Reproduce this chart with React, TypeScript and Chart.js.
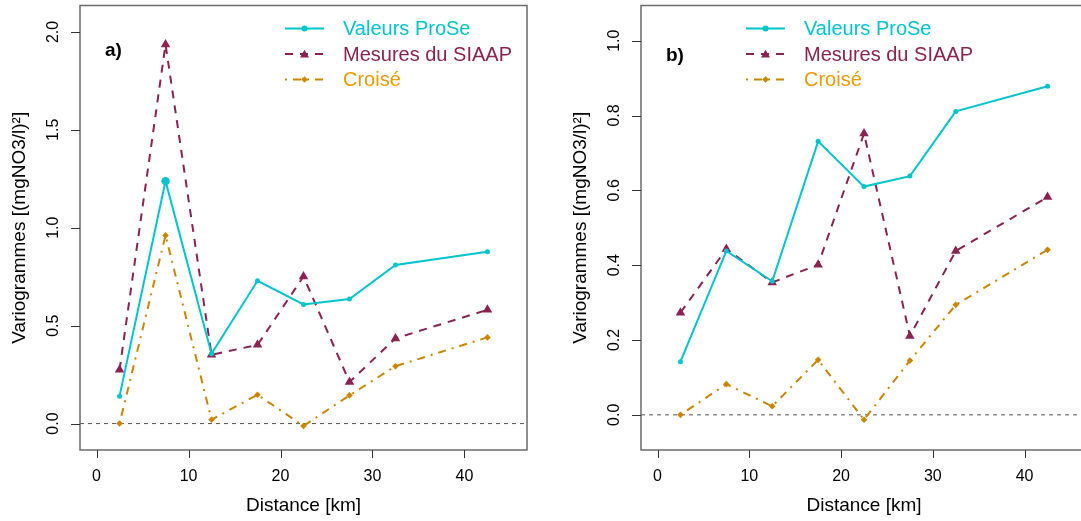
import React, { useEffect, useRef } from "react";
import { Chart, registerables } from "chart.js";

Chart.register(...registerables);

// Lag-class centres (km)
const distances = [2.5, 7.5, 12.5, 17.5, 22.5, 27.5, 32.5, 42.5];

// a) all stations
const proseA = [0.14, 1.238, 0.356, 0.729, 0.608, 0.636, 0.81, 0.878];
const siaapA = [0.275, 1.936, 0.351, 0.402, 0.751, 0.212, 0.435, 0.581];
const croiseA = [0.0, 0.961, 0.02, 0.147, -0.012, 0.144, 0.293, 0.44];

// b) reduced set
const proseB = [0.142, 0.438, 0.357, 0.731, 0.61, 0.638, 0.811, 0.878];
const siaapB = [0.273, 0.443, 0.354, 0.401, 0.752, 0.211, 0.438, 0.582];
const croiseB = [0.0, 0.082, 0.023, 0.147, -0.013, 0.145, 0.294, 0.441];

const xTicks = [0, 10, 20, 30, 40];
const xTickLabels = ["0", "10", "20", "30", "40"];
const yTicksA = [0, 0.5, 1, 1.5, 2];
const yTickLabelsA = ["0.0", "0.5", "1.0", "1.5", "2.0"];
const yTicksB = [0, 0.2, 0.4, 0.6, 0.8, 1.0];
const yTickLabelsB = ["0.0", "0.2", "0.4", "0.6", "0.8", "1.0"];

const seriesNames = ["Valeurs ProSe", "Mesures du SIAAP", "Croisé"];
const xTitle = "Distance [km]";
const yTitle = "Variogrammes [(mgNO3/l)²]";

const CYAN = "#00C5CD";
const MAROON = "#8B2252";
const GOLD = "#CD8500";
const GOLD_TEXT = "#EE9A00";
const FONT = "'Liberation Sans', Arial, Helvetica, sans-serif";

const DASH_SIAAP = [8, 7];
const DASH_CROISE = [2, 6, 8, 6];

type Panel = {
  prose: number[];
  siaap: number[];
  croise: number[];
  yMin: number;
  yMax: number;
  yTicks: number[];
  yTickLabels: string[];
  tag: string;
  tagX: number;
  tagY: number;
  legendX: number;
  canvasWidth: number;
  padLeft: number;
  padRight: number;
  proseRadii: number[];
};

function drawMarker(ctx: CanvasRenderingContext2D, kind: string, x: number, y: number, r: number, color: string) {
  ctx.save();
  ctx.setLineDash([]);
  ctx.fillStyle = color;
  ctx.beginPath();
  if (kind === "circle") {
    ctx.arc(x, y, r, 0, Math.PI * 2);
  } else if (kind === "triangle") {
    ctx.moveTo(x, y - r);
    ctx.lineTo(x + r * 0.866, y + r * 0.5);
    ctx.lineTo(x - r * 0.866, y + r * 0.5);
    ctx.closePath();
  } else {
    ctx.moveTo(x, y - r);
    ctx.lineTo(x + r, y);
    ctx.lineTo(x, y + r);
    ctx.lineTo(x - r, y);
    ctx.closePath();
  }
  ctx.fill();
  ctx.restore();
}

function makePlugin(p: Panel) {
  return {
    id: "baseAxes",
    beforeDatasetsDraw(chart: any) {
      const { ctx, chartArea } = chart;
      const ys = chart.scales.y;
      const y0 = ys.getPixelForValue(0);
      ctx.save();
      ctx.strokeStyle = "#555";
      ctx.lineWidth = 1;
      ctx.setLineDash([4, 4]);
      ctx.beginPath();
      ctx.moveTo(chartArea.left, y0);
      ctx.lineTo(chartArea.right, y0);
      ctx.stroke();
      ctx.restore();
    },
    afterDraw(chart: any) {
      const { ctx, chartArea } = chart;
      const xs = chart.scales.x;
      const ys = chart.scales.y;
      const { left, right, top, bottom } = chartArea;
      ctx.save();

      // frame
      ctx.strokeStyle = "#6b6b6b";
      ctx.lineWidth = 1.5;
      ctx.strokeRect(left, top, right - left, bottom - top);

      // ticks
      ctx.strokeStyle = "#333";
      ctx.lineWidth = 1;
      ctx.beginPath();
      xTicks.forEach((v) => {
        const px = Math.round(xs.getPixelForValue(v)) + 0.5;
        ctx.moveTo(px, bottom);
        ctx.lineTo(px, bottom + 8);
      });
      p.yTicks.forEach((v) => {
        const py = Math.round(ys.getPixelForValue(v)) + 0.5;
        ctx.moveTo(left, py);
        ctx.lineTo(left - 9, py);
      });
      ctx.stroke();

      // tick labels
      ctx.fillStyle = "#000";
      ctx.font = `16px ${FONT}`;
      ctx.textAlign = "center";
      ctx.textBaseline = "alphabetic";
      xTicks.forEach((v, i) => {
        ctx.fillText(xTickLabels[i], xs.getPixelForValue(v), 481);
      });
      p.yTicks.forEach((v, i) => {
        ctx.save();
        ctx.translate(left - 26, ys.getPixelForValue(v));
        ctx.rotate(-Math.PI / 2);
        ctx.textBaseline = "middle";
        ctx.fillText(p.yTickLabels[i], 0, 0);
        ctx.restore();
      });

      // axis titles
      ctx.font = `19px ${FONT}`;
      ctx.fillText(xTitle, (left + right) / 2, 511);
      ctx.save();
      ctx.translate(left - 60, (top + bottom) / 2);
      ctx.rotate(-Math.PI / 2);
      ctx.textBaseline = "middle";
      ctx.fillText(yTitle, 0, 0);
      ctx.restore();

      // panel tag
      ctx.font = `bold 19px ${FONT}`;
      ctx.textAlign = "left";
      ctx.fillText(p.tag, p.tagX, p.tagY);

      // legend
      const rows = [28.5, 54, 79.5];
      const colors = [CYAN, MAROON, GOLD];
      const textColors = [CYAN, MAROON, GOLD_TEXT];
      const dashes = [[], DASH_SIAAP, DASH_CROISE];
      const kinds = ["circle", "triangle", "diamond"];
      const radii = [3, 5.2, 3.3];
      const x1 = p.legendX;
      const x2 = p.legendX + 39;
      const xm = (x1 + x2) / 2;
      ctx.font = `20px ${FONT}`;
      ctx.textBaseline = "middle";
      rows.forEach((ry, i) => {
        ctx.save();
        ctx.strokeStyle = colors[i];
        ctx.lineWidth = 2;
        ctx.setLineDash(dashes[i]);
        ctx.beginPath();
        ctx.moveTo(x1, ry);
        ctx.lineTo(x2, ry);
        ctx.stroke();
        ctx.restore();
        drawMarker(ctx, kinds[i], xm, ry + (i === 1 ? 1 : 0), radii[i], colors[i]);
        ctx.fillStyle = textColors[i];
        ctx.fillText(seriesNames[i], x1 + 58, ry + 1);
      });
      ctx.restore();
    },
  };
}

function toPoints(vals: number[]) {
  return distances.map((x, i) => ({ x, y: vals[i] }));
}

function buildChart(canvas: HTMLCanvasElement, p: Panel) {
  return new Chart(canvas, {
    type: "line",
    data: {
      datasets: [
        {
          label: seriesNames[0],
          data: toPoints(p.prose),
          borderColor: CYAN,
          backgroundColor: CYAN,
          borderWidth: 2,
          pointStyle: "circle",
          pointRadius: p.proseRadii,
          pointBackgroundColor: CYAN,
          pointBorderColor: CYAN,
          pointBorderWidth: 0,
          tension: 0,
        },
        {
          label: seriesNames[1],
          data: toPoints(p.siaap),
          borderColor: MAROON,
          backgroundColor: MAROON,
          borderWidth: 2,
          borderDash: DASH_SIAAP,
          pointStyle: "triangle",
          pointRadius: 5.5,
          pointBackgroundColor: MAROON,
          pointBorderColor: MAROON,
          pointBorderWidth: 0,
          tension: 0,
        },
        {
          label: seriesNames[2],
          data: toPoints(p.croise),
          borderColor: GOLD,
          backgroundColor: GOLD,
          borderWidth: 2,
          borderDash: DASH_CROISE,
          pointStyle: "rectRot",
          pointRadius: 3.3,
          pointBackgroundColor: GOLD,
          pointBorderColor: GOLD,
          pointBorderWidth: 0,
          tension: 0,
        },
      ],
    },
    options: {
      animation: false,
      responsive: false,
      devicePixelRatio: 1,
      layout: { padding: { left: p.padLeft, right: p.padRight, top: 4, bottom: 71 } },
      scales: {
        x: { type: "linear", min: -1.8, max: 46.8, display: false },
        y: { type: "linear", min: p.yMin, max: p.yMax, display: false },
      },
      plugins: { legend: { display: false }, tooltip: { enabled: false } },
      events: [],
    },
    plugins: [makePlugin(p)],
  } as any);
}

const panelA: Panel = {
  prose: proseA,
  siaap: siaapA,
  croise: croiseA,
  yMin: -0.135,
  yMax: 2.135,
  yTicks: yTicksA,
  yTickLabels: yTickLabelsA,
  tag: "a)",
  tagX: 105,
  tagY: 56,
  legendX: 285,
  canvasWidth: 540,
  padLeft: 80,
  padRight: 13,
  proseRadii: [2.5, 4.2, 2.5, 2.5, 2.5, 2.5, 2.5, 2.5],
};

const panelB: Panel = {
  prose: proseB,
  siaap: siaapB,
  croise: croiseB,
  yMin: -0.094,
  yMax: 1.094,
  yTicks: yTicksB,
  yTickLabels: yTickLabelsB,
  tag: "b)",
  tagX: 126,
  tagY: 61,
  legendX: 206,
  canvasWidth: 560,
  padLeft: 101,
  padRight: 13,
  proseRadii: [2.5, 2.5, 2.5, 2.5, 2.5, 2.5, 2.5, 2.5],
};

export default function App() {
  const refA = useRef<HTMLCanvasElement | null>(null);
  const refB = useRef<HTMLCanvasElement | null>(null);

  useEffect(() => {
    document.body.style.margin = "0";
    const a = refA.current ? buildChart(refA.current, panelA) : null;
    const b = refB.current ? buildChart(refB.current, panelB) : null;
    return () => {
      a?.destroy();
      b?.destroy();
    };
  }, []);

  return (
    <div
      style={{
        position: "fixed",
        left: 0,
        top: 0,
        width: 1081,
        height: 521,
        overflow: "hidden",
        background: "#fff",
      }}
    >
      <canvas
        ref={refA}
        width={panelA.canvasWidth}
        height={521}
        style={{ position: "absolute", left: 0, top: 0 }}
      />
      <canvas
        ref={refB}
        width={panelB.canvasWidth}
        height={521}
        style={{ position: "absolute", left: 540, top: 0 }}
      />
    </div>
  );
}
